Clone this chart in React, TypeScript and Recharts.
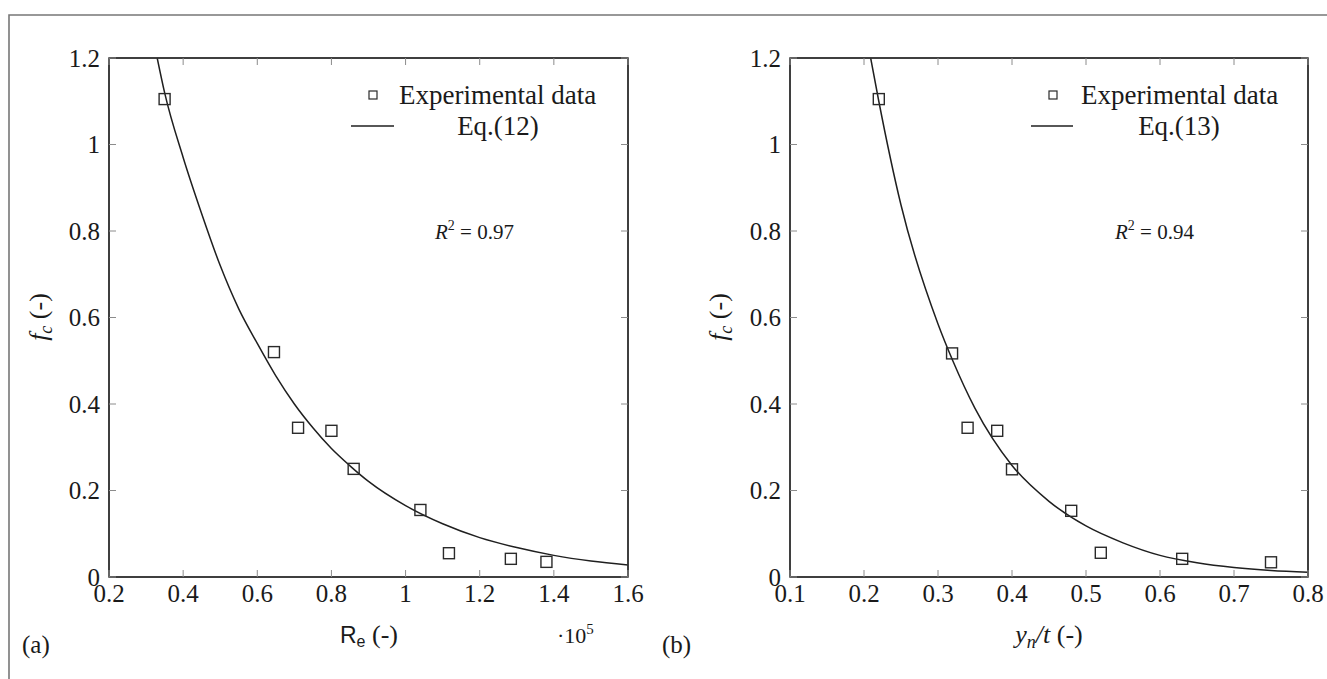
import React from 'react';
import { ComposedChart, Scatter, Line, XAxis, YAxis, ReferenceArea } from 'recharts';

// ---- Data: panel (a) f_c vs Re (x in units of 1e5)
const reExpX = [0.35, 0.645, 0.71, 0.8, 0.86, 1.04, 1.117, 1.284, 1.38];
const reExpY = [1.105, 0.52, 0.345, 0.338, 0.25, 0.155, 0.055, 0.042, 0.035];
const reFitX = [0.33, 0.35, 0.4, 0.45, 0.5, 0.55, 0.6, 0.65, 0.7, 0.75, 0.8, 0.85, 0.9, 1.0, 1.1, 1.2, 1.3, 1.4, 1.5, 1.6];
const reFitY = [1.2, 1.12, 0.97, 0.84, 0.72, 0.62, 0.54, 0.465, 0.4, 0.345, 0.297, 0.257, 0.221, 0.165, 0.123, 0.091, 0.068, 0.05, 0.037, 0.028];

// ---- Data: panel (b) f_c vs y_n/t
const ynExpX = [0.22, 0.319, 0.34, 0.38, 0.4, 0.48, 0.52, 0.63, 0.75];
const ynExpY = [1.105, 0.517, 0.345, 0.338, 0.249, 0.153, 0.056, 0.042, 0.034];
const ynFitX = [0.209, 0.22, 0.25, 0.3, 0.32, 0.35, 0.4, 0.45, 0.5, 0.55, 0.6, 0.65, 0.7, 0.75, 0.8];
const ynFitY = [1.2, 1.1, 0.86, 0.585, 0.5, 0.39, 0.258, 0.175, 0.118, 0.079, 0.05, 0.033, 0.022, 0.015, 0.011];

// ---- Ticks
const reXTicks = [0.2, 0.4, 0.6, 0.8, 1, 1.2, 1.4, 1.6];
const ynXTicks = [0.1, 0.2, 0.3, 0.4, 0.5, 0.6, 0.7, 0.8];
const fcYTicks = [0, 0.2, 0.4, 0.6, 0.8, 1, 1.2];

const zip = (xs: number[], ys: number[]) => xs.map((x, i) => ({ x, y: ys[i] }));

const FONT = '"Liberation Serif", "Times New Roman", serif';
const TICK_LEN = 7;
const TICK_COLOR = '#8c8c8c';
const AXIS_COLOR = '#333';
const TEXT_COLOR = '#1a1a1a';
const TICK_FONT = 25;

const Square = (props: any) => {
  const { cx, cy } = props;
  if (cx == null || cy == null) return null;
  return <rect x={cx - 5.5} y={cy - 5.5} width={11} height={11} fill="none" stroke="#2a2a2a" strokeWidth={1.4} />;
};

const renderBottomTick = (props: any) => {
  const { x, y, payload } = props;
  const axisY = y - 7;
  return (
    <g key={`b-${payload.value}`}>
      <line x1={x} x2={x} y1={axisY} y2={axisY - TICK_LEN} stroke={TICK_COLOR} strokeWidth={1} />
      <text x={x} y={y} dy="0.71em" textAnchor="middle" style={{ fontFamily: FONT, fontSize: TICK_FONT }} fill={TEXT_COLOR}>
        {String(payload.value)}
      </text>
    </g>
  );
};

const renderLeftTick = (props: any) => {
  const { x, y, payload } = props;
  const axisX = x + 9;
  return (
    <g key={`l-${payload.value}`}>
      <line x1={axisX} x2={axisX + TICK_LEN} y1={y} y2={y} stroke={TICK_COLOR} strokeWidth={1} />
      <text x={x} y={y} dy="0.35em" textAnchor="end" style={{ fontFamily: FONT, fontSize: TICK_FONT }} fill={TEXT_COLOR}>
        {String(payload.value)}
      </text>
    </g>
  );
};

const renderTopTick = (props: any) => {
  const { x, y, payload } = props;
  return <line key={`t-${payload.value}`} x1={x} x2={x} y1={y} y2={y + TICK_LEN} stroke={TICK_COLOR} strokeWidth={1} />;
};

const renderRightTick = (props: any) => {
  const { x, y, payload } = props;
  return <line key={`r-${payload.value}`} x1={x - TICK_LEN} x2={x} y1={y} y2={y} stroke={TICK_COLOR} strokeWidth={1} />;
};

type PanelProps = {
  left: number;
  width: number;
  margin: { top: number; right: number; bottom: number; left: number };
  xDomain: [number, number];
  xTicks: number[];
  exp: { x: number; y: number }[];
  fit: { x: number; y: number }[];
};

const Panel = ({ left, width, margin, xDomain, xTicks, exp, fit }: PanelProps) => (
  <div style={{ position: 'absolute', left, top: 0, width, height: 679 }}>
    <ComposedChart width={width} height={679} margin={margin}>
      <XAxis
        dataKey="x"
        type="number"
        domain={xDomain}
        ticks={xTicks}
        allowDataOverflow
        height={40}
        tickSize={0}
        tickMargin={7}
        tick={renderBottomTick}
        stroke={AXIS_COLOR}
        axisLine={{ stroke: AXIS_COLOR, strokeWidth: 1.5 }}
        tickLine={false}
        interval={0}
      />
      <XAxis
        xAxisId="top"
        orientation="top"
        dataKey="x"
        type="number"
        domain={xDomain}
        ticks={xTicks}
        allowDataOverflow
        height={1}
        tickSize={0}
        tickMargin={0}
        tick={renderTopTick}
        stroke={AXIS_COLOR}
        axisLine={{ stroke: AXIS_COLOR, strokeWidth: 1.5 }}
        tickLine={false}
        interval={0}
      />
      <YAxis
        type="number"
        domain={[0, 1.2]}
        ticks={fcYTicks}
        allowDataOverflow
        width={50}
        tickSize={0}
        tickMargin={9}
        tick={renderLeftTick}
        stroke={AXIS_COLOR}
        axisLine={{ stroke: AXIS_COLOR, strokeWidth: 1.5 }}
        tickLine={false}
        interval={0}
      />
      <YAxis
        yAxisId="right"
        orientation="right"
        type="number"
        domain={[0, 1.2]}
        ticks={fcYTicks}
        allowDataOverflow
        width={1}
        tickSize={0}
        tickMargin={0}
        tick={renderRightTick}
        stroke={AXIS_COLOR}
        axisLine={{ stroke: AXIS_COLOR, strokeWidth: 1.5 }}
        tickLine={false}
        interval={0}
      />
      <ReferenceArea
        x1={xDomain[0]}
        x2={xDomain[1]}
        y1={0}
        y2={1.2}
        fill="none"
        fillOpacity={0}
        stroke={AXIS_COLOR}
        strokeWidth={1.5}
        strokeOpacity={1}
        ifOverflow="visible"
      />
      <Line
        data={fit}
        dataKey="y"
        type="monotone"
        dot={false}
        stroke="#1f1f1f"
        strokeWidth={1.5}
        isAnimationActive={false}
      />
      <Scatter data={exp} dataKey="y" shape={<Square />} isAnimationActive={false} />
    </ComposedChart>
  </div>
);

const Legend2 = ({ sqX, textX, lineX1, lineX2, eqX, eqLabel }: any) => (
  <g style={{ fontFamily: FONT }} fill={TEXT_COLOR}>
    <rect x={sqX - 4} y={91} width={8} height={8} fill="none" stroke="#2a2a2a" strokeWidth={1.2} />
    <text x={textX} y={104} fontSize={27}>Experimental data</text>
    <line x1={lineX1} x2={lineX2} y1={126} y2={126} stroke="#1f1f1f" strokeWidth={1.5} />
    <text x={eqX} y={135} fontSize={27} textAnchor="middle">{eqLabel}</text>
  </g>
);

export default function App() {
  return (
    <div style={{ position: 'absolute', left: 0, top: 0, width: 1327, height: 679, background: '#fff', overflow: 'hidden' }}>
      <Panel
        left={0}
        width={660}
        margin={{ top: 57, right: 31, bottom: 62, left: 59 }}
        xDomain={[0.2, 1.6]}
        xTicks={reXTicks}
        exp={zip(reExpX, reExpY)}
        fit={zip(reFitX, reFitY)}
      />
      <Panel
        left={660}
        width={667}
        margin={{ top: 57, right: 18, bottom: 62, left: 80 }}
        xDomain={[0.1, 0.8]}
        xTicks={ynXTicks}
        exp={zip(ynExpX, ynExpY)}
        fit={zip(ynFitX, ynFitY)}
      />
      <svg
        width={1327}
        height={679}
        style={{ position: 'absolute', left: 0, top: 0, pointerEvents: 'none' }}
      >
        <path d="M9,679 L9,15 L1327,15" fill="none" stroke="#777" strokeWidth={1.6} />

        {/* Legends */}
        <Legend2 sqX={373} textX={399} lineX1={351} lineX2={394} eqX={498} eqLabel="Eq.(12)" />
        <Legend2 sqX={1053} textX={1081} lineX1={1031} lineX2={1073} eqX={1179} eqLabel="Eq.(13)" />

        {/* R^2 annotations */}
        <g style={{ fontFamily: FONT }} fill={TEXT_COLOR} fontSize={21}>
          <text x={435} y={239}>
            <tspan fontStyle="italic">R</tspan>
            <tspan fontSize={14} dy={-9}>2</tspan>
            <tspan dy={9}> = 0.97</tspan>
          </text>
          <text x={1115} y={239}>
            <tspan fontStyle="italic">R</tspan>
            <tspan fontSize={14} dy={-9}>2</tspan>
            <tspan dy={9}> = 0.94</tspan>
          </text>
        </g>

        {/* Axis titles */}
        <g style={{ fontFamily: FONT }} fill={TEXT_COLOR} fontSize={26}>
          <text transform="translate(47,317) rotate(-90)" textAnchor="middle">
            <tspan fontStyle="italic">f</tspan>
            <tspan fontStyle="italic" fontSize={18} dy={5}>c</tspan>
            <tspan dy={-5}> (-)</tspan>
          </text>
          <text transform="translate(727,317) rotate(-90)" textAnchor="middle">
            <tspan fontStyle="italic">f</tspan>
            <tspan fontStyle="italic" fontSize={18} dy={5}>c</tspan>
            <tspan dy={-5}> (-)</tspan>
          </text>
          <text x={369} y={643} textAnchor="middle">
            <tspan style={{ fontFamily: '"Liberation Sans", "DejaVu Sans", sans-serif' }} fontSize={23}>R</tspan>
            <tspan style={{ fontFamily: '"Liberation Sans", "DejaVu Sans", sans-serif' }} fontSize={16} dy={4}>e</tspan>
            <tspan dy={-4}> (-)</tspan>
          </text>
          <text x={557} y={643} fontSize={22}>
            <tspan>·10</tspan>
            <tspan fontSize={15} dy={-9}>5</tspan>
          </text>
          <text x={1049} y={643} textAnchor="middle">
            <tspan fontStyle="italic">y</tspan>
            <tspan fontStyle="italic" fontSize={18} dy={5}>n</tspan>
            <tspan dy={-5} fontStyle="italic">/t</tspan>
            <tspan> (-)</tspan>
          </text>
          <text x={22} y={653} fontSize={25}>(a)</text>
          <text x={662} y={653} fontSize={25}>(b)</text>
        </g>
      </svg>
    </div>
  );
}
